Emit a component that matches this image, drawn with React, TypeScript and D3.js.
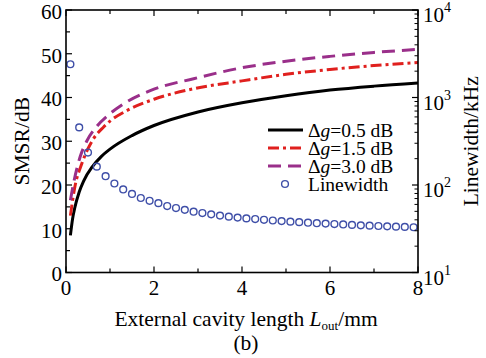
import React from "react";
import * as d3 from "d3";

const W = 486;
const H = 358;

const blackX = [0.1, 0.15, 0.2, 0.3, 0.4, 0.6, 0.8, 1, 1.5, 2, 3, 4, 5, 6, 7, 8];
const blackY = [8.5, 12.3, 14.8, 18.4, 20.9, 24.2, 26.5, 28.2, 31.3, 33.6, 36.7, 38.8, 40.4, 41.7, 42.6, 43.3];

const redX = [0.1, 0.2, 0.36, 0.5, 0.62, 0.85, 1, 1.38, 2, 2.9, 4, 5, 6, 7, 8];
const redY = [13, 19.5, 24.9, 28.3, 30.5, 33.2, 34.6, 37.0, 39.6, 42, 43.8, 45.3, 46.4, 47.3, 48];

const purpleX = [0.1, 0.17, 0.32, 0.47, 0.7, 1, 1.38, 2, 2.9, 4, 5, 6, 7, 8];
const purpleY = [16.5, 20.3, 26.4, 30.0, 33.4, 36.3, 39.0, 41.9, 44.3, 46.8, 48.3, 49.4, 50.3, 51];

const lwX = [0.1, 0.3, 0.5, 0.7, 0.9, 1.1, 1.3, 1.5, 1.7, 1.9, 2.1, 2.3, 2.5, 2.7, 2.9, 3.1, 3.3, 3.5, 3.7, 3.9,
  4.1, 4.3, 4.5, 4.7, 4.9, 5.1, 5.3, 5.5, 5.7, 5.9, 6.1, 6.3, 6.5, 6.7, 6.9, 7.1, 7.3, 7.5, 7.7, 7.9];
const lwY = [2400, 455, 235, 162, 126, 104, 89, 79, 71, 66, 62, 57.5, 54.5, 52, 49.5, 47.8, 46.2, 44.7, 43.5, 42.4,
  41.5, 40.8, 40.0, 39.3, 38.7, 38.1, 37.6, 37.1, 36.6, 36.2, 35.8, 35.4, 35.0, 34.6, 34.3, 34.0, 33.7, 33.4, 33.2, 32.9];

const xTicks = [0, 2, 4, 6, 8];
const yTicks = [0, 10, 20, 30, 40, 50, 60];
const yrTicks = [1, 2, 3, 4];
const legendLabels = ["0.5", "1.5", "3.0"];

const L = 66, R = 418, T = 10, B = 272.5;
const FONT = '"Liberation Serif", "DejaVu Serif", serif';

export default function App() {
  const x = d3.scaleLinear().domain([0, 8]).range([L, R]);
  const y = d3.scaleLinear().domain([0, 60]).range([B, T]);
  const yr = d3.scaleLog().domain([10, 10000]).range([B, T]);

  const line = d3.line<[number, number]>().x(d => x(d[0])).y(d => y(d[1])).curve(d3.curveMonotoneX);
  const zip = (a: number[], b: number[]) => a.map((v, i) => [v, b[i]] as [number, number]);

  const series = [
    { d: zip(blackX, blackY), color: "#000000", dash: "none", width: 3 },
    { d: zip(redX, redY), color: "#e0201e", dash: "11 4 3 4", width: 3 },
    { d: zip(purpleX, purpleY), color: "#9a2f8a", dash: "13 7", width: 3 },
  ];

  const minorX = d3.range(0, 8.01, 1);
  const minorY = d3.range(0, 60.1, 5);
  const logMinor: number[] = [];
  for (let e = 1; e < 4; e++) for (let k = 2; k <= 9; k++) logMinor.push(k * Math.pow(10, e));

  const ts = { fontFamily: FONT };

  return (
    <svg width={W} height={H} style={{ position: "absolute", left: 0, top: 0, background: "#fff", fontFamily: FONT }}>
      <defs>
        <clipPath id="plot"><rect x={L} y={T} width={R - L} height={B - T} /></clipPath>
      </defs>
      <g clipPath="url(#plot)">
        {series.map((s, i) => (
          <path key={i} d={line(s.d) || ""} fill="none" stroke={s.color} strokeWidth={s.width}
            strokeDasharray={s.dash} />
        ))}
      </g>
      {lwX.map((v, i) => (
        <circle key={i} cx={x(v)} cy={yr(lwY[i])} r={3.4} fill="none" stroke="#3f4fa8" strokeWidth={1.4} />
      ))}
      <rect x={L} y={T} width={R - L} height={B - T} fill="none" stroke="#000" strokeWidth={1.6} />
      {minorX.map(v => {
        const major = v % 2 === 0;
        return (
          <g key={v}>
            <line x1={x(v)} x2={x(v)} y1={B} y2={B - (major ? 6 : 4)} stroke="#000" strokeWidth={1.2} />
            <line x1={x(v)} x2={x(v)} y1={T} y2={T + (major ? 6 : 4)} stroke="#000" strokeWidth={1.2} />
          </g>
        );
      })}
      {minorY.map(v => {
        const major = v % 10 === 0;
        return <line key={v} x1={L} x2={L + (major ? 6 : 4)} y1={y(v)} y2={y(v)} stroke="#000" strokeWidth={1.2} />;
      })}
      {yrTicks.map(e => (
        <line key={e} x1={R} x2={R - 6} y1={yr(Math.pow(10, e))} y2={yr(Math.pow(10, e))} stroke="#000" strokeWidth={1.2} />
      ))}
      {logMinor.map(v => (
        <line key={v} x1={R} x2={R - 3.5} y1={yr(v)} y2={yr(v)} stroke="#000" strokeWidth={1} />
      ))}
      {yTicks.map(v => (
        <text key={v} style={ts} x={L - 4} y={y(v) + 1.5} dy="0.35em" textAnchor="end" fontSize={21}>{v}</text>
      ))}
      {xTicks.map(v => (
        <text key={v} style={ts} x={x(v)} y={B + 22} textAnchor="middle" fontSize={21}>{v}</text>
      ))}
      {yrTicks.map(e => (
        <text key={e} style={ts} x={R + 5} y={yr(Math.pow(10, e)) + 12} fontSize={21}>
          10<tspan dy={-10} fontSize={14}>{e}</tspan>
        </text>
      ))}
      <text style={ts} transform={`translate(29,${(T + B) / 2}) rotate(-90)`} textAnchor="middle" fontSize={21.5}>SMSR/dB</text>
      <text style={ts} transform={`translate(478,${(T + B) / 2}) rotate(-90)`} textAnchor="middle" fontSize={21.5}>Linewidth/kHz</text>
      <text style={ts} x={(L + R) / 2 + 4} y={326} textAnchor="middle" fontSize={21.5}>
        External cavity length <tspan fontStyle="italic">L</tspan><tspan fontSize={13} dy={4}>out</tspan><tspan dy={-4}>/mm</tspan>
      </text>
      <text style={ts} x={(L + R) / 2 + 4} y={350} textAnchor="middle" fontSize={21.5}>(b)</text>
      {series.map((s, i) => {
        const yy = 130 + i * 18;
        return (
          <g key={i}>
            <line x1={268} x2={303} y1={yy} y2={yy} stroke={s.color} strokeWidth={s.width} strokeDasharray={s.dash} />
            <text style={ts} x={308} y={yy} dy="0.35em" fontSize={19.5}>
              Δ<tspan fontStyle="italic">g</tspan>={legendLabels[i]} dB
            </text>
          </g>
        );
      })}
      <circle cx={285} cy={184} r={3.4} fill="none" stroke="#3f4fa8" strokeWidth={1.4} />
      <text style={ts} x={308} y={184} dy="0.35em" fontSize={19.5}>Linewidth</text>
    </svg>
  );
}
